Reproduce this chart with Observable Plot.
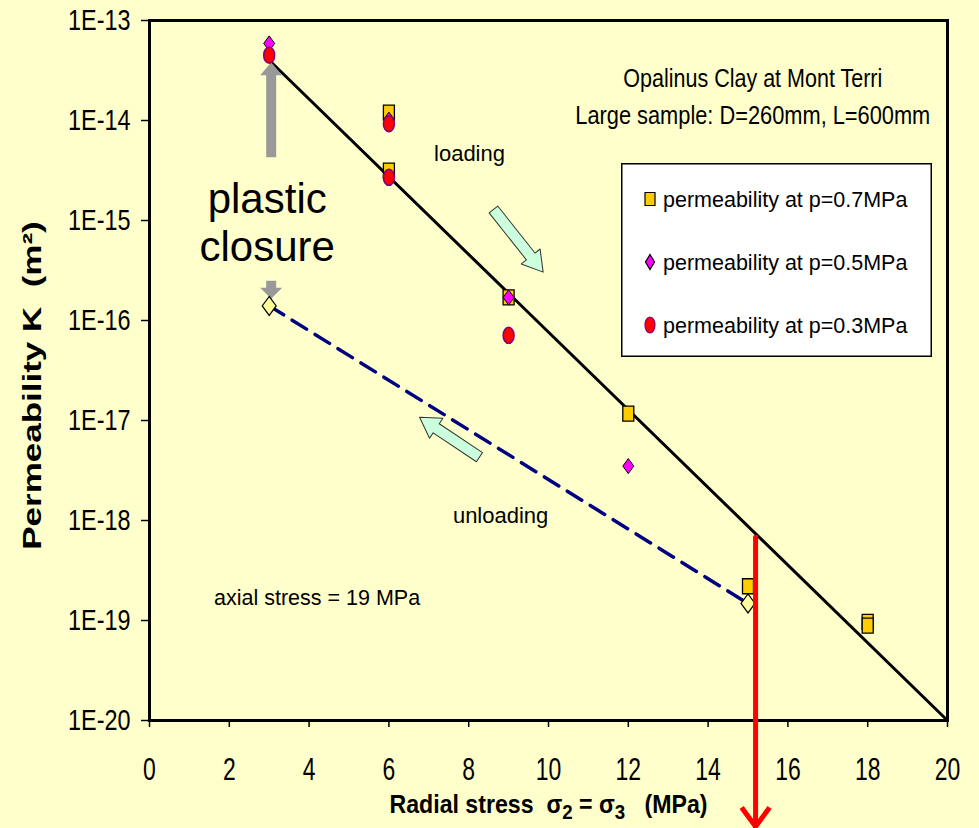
<!DOCTYPE html>
<html>
<head>
<meta charset="utf-8">
<script src="https://cdn.jsdelivr.net/npm/d3@7"></script>
<script src="https://cdn.jsdelivr.net/npm/@observablehq/plot@0.6"></script>
<style>
  html, body { margin: 0; padding: 0; background: #FFFFCC; }
  #chart { position: relative; width: 979px; height: 828px; overflow: hidden; background: #FFFFCC; }
  #chart > svg.main { position: absolute; left: 0; top: 0; }
  #chart > svg.legend-box { position: absolute; left: 621px; top: 163px; }
</style>
</head>
<body>
<div id="chart"></div>
<script>
// ---- axis ticks ----
const xTicks = [0, 2, 4, 6, 8, 10, 12, 14, 16, 18, 20];
const xTickLabels = ["0", "2", "4", "6", "8", "10", "12", "14", "16", "18", "20"];
const yTicks = [1e-13, 1e-14, 1e-15, 1e-16, 1e-17, 1e-18, 1e-19, 1e-20];
const yTickLabels = ["1E-13", "1E-14", "1E-15", "1E-16", "1E-17", "1E-18", "1E-19", "1E-20"];

// ---- titles ----
const yTitle = "Permeability\u00a0K\u00a0\u00a0(m²)";
const xTitleParts = [["Radial stress\u00a0\u00a0σ", false], ["2", true], ["\u00a0=\u00a0σ", false], ["3", true], ["\u00a0\u00a0\u00a0(MPa)", false]];
const xTitle = xTitleParts.map(p => p[0]).join("");

// ---- measured permeability (m²) vs radial stress (MPa) ----
const seriesNames = ["permeability at p=0.7MPa", "permeability at p=0.5MPa", "permeability at p=0.3MPa"];
const stress07 = [6, 6, 9, 12, 15, 18, 18];
const perm07 = [1.2e-14, 3.15e-15, 1.7e-16, 1.17e-17, 2.2e-19, 9.7e-20, 8.9e-20];
const stress05 = [3, 6, 6, 9, 12];
const perm05 = [5.9e-14, 1.02e-14, 2.65e-15, 1.7e-16, 3.5e-18];
const stress03 = [3, 6, 6, 9];
const perm03 = [4.5e-14, 9.3e-15, 2.7e-15, 7.1e-17];

// unloading path (open diamonds, dashed)
const unloadStress = [3, 15];
const unloadPerm = [1.4e-16, 1.48e-19];

// loading trend line
const trendStress = [3, 20];
const trendPerm = [4e-14, 1e-20];

// red marker arrow dropping to the stress axis
const markStress = [15.19, 15.19];
const markPerm = [6.8e-19, 8.7e-22];

// ---- annotations ----
const noteText = ["Opalinus Clay at Mont Terri", "Large sample: D=260mm, L=600mm"];
const noteStress = [15.12, 15.12];
const notePerm = [2.6e-14, 1.12e-14];
const phaseText = ["loading", "unloading"];
const phaseStress = [8.02, 8.8];
const phasePerm = [4.6e-15, 1.1e-18];
const axialText = ["axial stress = 19 MPa"];
const axialStress = [4.2];
const axialPerm = [1.66e-19];
const closureText = ["plastic\nclosure"];
const closureStress = [2.95];
const closurePerm = [9.8e-16];

// block arrows: tail position, direction (deg clockwise from up), length (px)
const closeUpStress = [3.05], closeUpPerm = [4.3e-15], closeUpAngle = [0];
const closeDownStress = [3.05], closeDownPerm = [2.5e-16], closeDownAngle = [180];
const loadArrowStress = [8.62], loadArrowPerm = [1.29e-15], loadArrowAngle = [141.6];
const unloadArrowStress = [8.27], unloadArrowPerm = [4.3e-18], unloadArrowAngle = [303.7];

// ---- colours ----
const colors = ["#FFCC00", "#FF00FF", "#FF0000"];
const FONT = '"Liberation Sans", Arial, Helvetica, sans-serif';

// ---- marker shapes (slightly taller than wide) ----
function boxSymbol(w, h) {
  return {draw(c) { c.moveTo(-w / 2, -h / 2); c.lineTo(w / 2, -h / 2); c.lineTo(w / 2, h / 2); c.lineTo(-w / 2, h / 2); c.closePath(); }};
}
function diamondSymbol(w, h) {
  return {draw(c) { c.moveTo(0, -h / 2); c.lineTo(w / 2, 0); c.lineTo(0, h / 2); c.lineTo(-w / 2, 0); c.closePath(); }};
}
function ovalSymbol(w, h) {
  const a = w / 2, b = h / 2, k = 0.5523;
  return {draw(c) {
    c.moveTo(a, 0);
    c.bezierCurveTo(a, k * b, k * a, b, 0, b);
    c.bezierCurveTo(-k * a, b, -a, k * b, -a, 0);
    c.bezierCurveTo(-a, -k * b, -k * a, -b, 0, -b);
    c.bezierCurveTo(k * a, -b, a, -k * b, a, 0);
    c.closePath();
  }};
}
function chevronSymbol(w, h) {
  return {draw(c) { c.moveTo(-w / 2, -h); c.lineTo(0, 0); c.lineTo(w / 2, -h); }};
}
function blockArrow(shaft, head, headLen) {
  return {draw(c, l) {
    const s = shaft / 2, hw = head / 2, b = l - headLen;
    c.moveTo(-s, 0); c.lineTo(-s, -b); c.lineTo(-hw, -b); c.lineTo(0, -l);
    c.lineTo(hw, -b); c.lineTo(s, -b); c.lineTo(s, 0); c.closePath();
  }};
}

const squareMark = boxSymbol(11, 15);
const diamondMark = diamondSymbol(11, 15);
const circleMark = ovalSymbol(11, 16);
const openDiamondMark = diamondSymbol(14, 19);

const svg = Plot.plot({
  width: 979,
  height: 828,
  marginLeft: 149,
  marginRight: 32,
  marginTop: 20,
  marginBottom: 108,
  className: "main",
  style: {background: "transparent", fontFamily: FONT, color: "black", overflow: "visible"},
  x: {domain: [0, 20]},
  y: {type: "log", domain: [1e-20, 1e-13]},
  marks: [
    Plot.axisY(yTicks, {tickSize: 8, tickPadding: 11, strokeWidth: 1.5, fontSize: 30, label: null,
      tickFormat: d => yTickLabels[yTicks.indexOf(d)]}),
    Plot.axisX(xTicks, {tickSize: 7, tickPadding: 30, strokeWidth: 1.5, fontSize: 31, label: null,
      tickFormat: d => xTickLabels[xTicks.indexOf(d)]}),

    // loading trend and unloading path
    Plot.line(trendStress.map((s, i) => [s, trendPerm[i]]), {x: "0", y: "1", stroke: "black", strokeWidth: 3}),
    Plot.line(unloadStress.map((s, i) => [s, unloadPerm[i]]), {x: "0", y: "1", stroke: "#000080", strokeWidth: 3.5, strokeDasharray: "17,10"}),

    // plastic-closure arrows
    Plot.vector([0], {x: closeUpStress, y: closeUpPerm, rotate: closeUpAngle, length: 95, anchor: "start",
      shape: blockArrow(10, 22, 13), fill: "#999999", stroke: "none"}),
    Plot.vector([0], {x: closeDownStress, y: closeDownPerm, rotate: closeDownAngle, length: 18, anchor: "start",
      shape: blockArrow(10, 22, 11), fill: "#999999", stroke: "none"}),

    // loading / unloading direction arrows
    Plot.vector([0], {x: loadArrowStress, y: loadArrowPerm, rotate: loadArrowAngle, length: 80, anchor: "start",
      shape: blockArrow(11, 24, 20), fill: "#CCFFDD", stroke: "#333333", strokeWidth: 1}),
    Plot.vector([0], {x: unloadArrowStress, y: unloadArrowPerm, rotate: unloadArrowAngle, length: 72, anchor: "start",
      shape: blockArrow(11, 24, 20), fill: "#CCFFDD", stroke: "#333333", strokeWidth: 1}),

    // measured points
    Plot.dot(unloadPerm, {x: unloadStress, y: unloadPerm, symbol: openDiamondMark, fill: "#FFFF99", stroke: "black", strokeWidth: 1.2}),
    Plot.dot(perm07, {x: stress07, y: perm07, symbol: squareMark, fill: colors[0], stroke: "black", strokeWidth: 1.3}),
    Plot.dot(perm05, {x: stress05, y: perm05, symbol: diamondMark, fill: colors[1], stroke: "black", strokeWidth: 1}),
    Plot.dot(perm03, {x: stress03, y: perm03, symbol: circleMark, fill: colors[2], stroke: "#800080", strokeWidth: 1.5}),

    // annotations
    Plot.text(noteText, {x: noteStress, y: notePerm, fontSize: 25, textAnchor: "middle"}),
    Plot.text(phaseText, {x: phaseStress, y: phasePerm, fontSize: 22, textAnchor: "middle"}),
    Plot.text(axialText, {x: axialStress, y: axialPerm, fontSize: 21.5, textAnchor: "middle"}),
    Plot.text(closureText, {x: closureStress, y: closurePerm, fontSize: 42, lineHeight: 1.14, textAnchor: "middle"}),

    // axis titles
    Plot.text([yTitle], {frameAnchor: "left", dx: -117, dy: 15, rotate: -90, fontSize: 35, fontWeight: "bold", textAnchor: "middle"}),
    Plot.text([xTitle], {frameAnchor: "bottom", dy: 92, fontSize: 26, fontWeight: "bold", textAnchor: "middle"}),

    Plot.frame({stroke: "black", strokeWidth: 3}),

    // red arrow
    Plot.line(markStress.map((s, i) => [s, markPerm[i]]), {x: "0", y: "1", stroke: "#FF0000", strokeWidth: 5}),
    Plot.dot([markPerm[1]], {x: [markStress[1]], y: [markPerm[1]], symbol: chevronSymbol(28, 19), fill: "none", stroke: "#FF0000", strokeWidth: 5, strokeLinejoin: "miter"})
  ]
});

const chart = document.getElementById("chart");
svg.classList.add("main");
chart.appendChild(svg);

// horizontal condensing of text
function fitText(el, w) { el.setAttribute("lengthAdjust", "spacingAndGlyphs"); el.setAttribute("textLength", w); }
function squeeze(el, k) { fitText(el, el.getComputedTextLength() * k); }

svg.querySelectorAll('g[aria-label="y-axis tick label"] text').forEach(t => squeeze(t, 0.78));
svg.querySelectorAll('g[aria-label="x-axis tick label"] text').forEach(t => squeeze(t, 0.74));

svg.querySelectorAll("text").forEach(t => {
  const s = t.textContent;
  if (s === noteText[0]) fitText(t, 259);
  else if (s === noteText[1]) fitText(t, 355);
  else if (s === yTitle) {
    t.setAttribute("transform", (t.getAttribute("transform") || "") + " scale(1,0.73)");
  } else if (s === xTitle) {
    t.textContent = "";
    xTitleParts.forEach(([str, sub], i) => {
      const sp = document.createElementNS("http://www.w3.org/2000/svg", "tspan");
      sp.textContent = str;
      if (sub) { sp.setAttribute("dy", "6"); sp.setAttribute("font-size", "21"); }
      else if (i > 0) sp.setAttribute("dy", "-6");
      t.appendChild(sp);
    });
    fitText(t, 318);
  }
});

// legend box
const legendSymbols = [boxSymbol(10, 13), diamondSymbol(9, 15), ovalSymbol(10, 16)];
const legendStrokes = ["black", "black", "#800080"];
const legend = d3.select(chart).append("svg")
  .attr("class", "legend-box").attr("width", 312).attr("height", 195)
  .style("font-family", FONT);
legend.append("rect").attr("x", 0.75).attr("y", 0.75).attr("width", 309.5).attr("height", 192.5)
  .attr("fill", "white").attr("stroke", "black").attr("stroke-width", 1.5);
const rowY = [36, 99, 162];
seriesNames.forEach((name, i) => {
  legend.append("path")
    .attr("d", d3.symbol().type(legendSymbols[i])())
    .attr("transform", `translate(29,${rowY[i]})`)
    .attr("fill", colors[i]).attr("stroke", legendStrokes[i]).attr("stroke-width", 1.2);
  legend.append("text").attr("x", 42).attr("y", rowY[i] + 8)
    .attr("font-size", 21.5).attr("fill", "black").text(name);
});
</script>
</body>
</html>
